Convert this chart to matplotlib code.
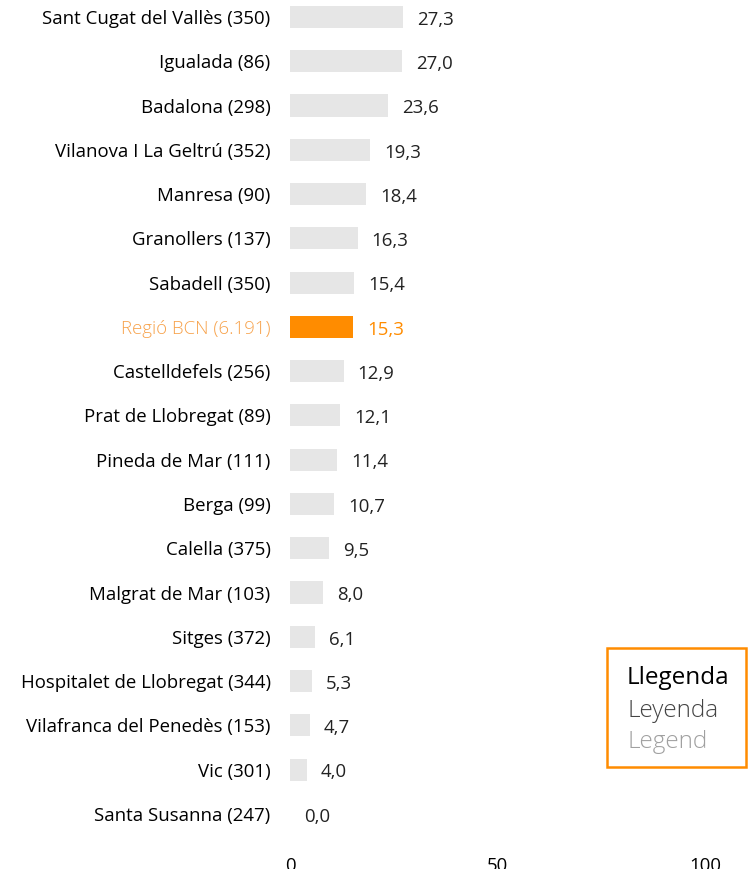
import matplotlib.pyplot as plt
from matplotlib.patches import Rectangle

plt.rcParams['font.family'] = ['Open Sans', 'DejaVu Sans']

# data
cities = ["Sant Cugat del Vallès (350)", "Igualada (86)", "Badalona (298)",
          "Vilanova I La Geltrú (352)", "Manresa (90)", "Granollers (137)",
          "Sabadell (350)", "Regió BCN (6.191)", "Castelldefels (256)",
          "Prat de Llobregat (89)", "Pineda de Mar (111)", "Berga (99)",
          "Calella (375)", "Malgrat de Mar (103)", "Sitges (372)",
          "Hospitalet de Llobregat (344)", "Vilafranca del Penedès (153)",
          "Vic (301)", "Santa Susanna (247)"]
values = [27.3, 27.0, 23.6, 19.3, 18.4, 16.3, 15.4, 15.3, 12.9, 12.1,
          11.4, 10.7, 9.5, 8.0, 6.1, 5.3, 4.7, 4.0, 0.0]
highlight = "Regió BCN (6.191)"
xticks = [0, 50, 100]

W, H = 748, 869
fig = plt.figure(figsize=(W / 100, H / 100), dpi=100)
ax = fig.add_axes([290 / W, (H - 836) / H, (705 - 290) / W, 836 / H])

orange = '#FF8C00'
gray = '#E6E6E6'
fs = 13.4
ypos = list(range(len(cities)))
colors = [orange if c == highlight else gray for c in cities]
ax.barh(ypos, values, height=0.5, color=colors)

ax.set_xlim(0, 100)
ax.set_ylim(18.5, -17 / 44.3)
ax.set_xticks(xticks)
ax.set_xticklabels([str(t) for t in xticks], fontsize=fs)
ax.tick_params(axis='x', length=0, pad=15)
ax.set_yticks(ypos)
ax.set_yticklabels(cities, fontsize=fs)
ax.tick_params(axis='y', length=0, pad=14)
for lab, c in zip(ax.get_yticklabels(), cities):
    if c == highlight:
        lab.set_color('#F7A24B')
        lab.set_fontweight('light')
for s in ax.spines.values():
    s.set_visible(False)

for y, v, c in zip(ypos, values, cities):
    col = orange if c == highlight else '#222222'
    ax.annotate(f"{v:.1f}".replace('.', ','), (v, y), xytext=(10, -2),
                textcoords='offset points', ha='left', va='center',
                fontsize=fs, color=col)

# legend box
fig.patches.append(Rectangle((607 / W, 1 - 767 / H), 139 / W, 119 / H,
                             transform=fig.transFigure, fill=False,
                             edgecolor=orange, linewidth=1.8))
fig.text(627 / W, 1 - 678 / H, "Llegenda", fontsize=17.5, color='#000000',
         va='center', ha='left')
fig.text(627 / W, 1 - 711 / H, "Leyenda", fontsize=17.5, color='#444444',
         va='center', ha='left', fontweight='light')
fig.text(627 / W, 1 - 742 / H, "Legend", fontsize=17.5, color='#A0A0A0',
         va='center', ha='left', fontweight='light')

fig.savefig('out.png', dpi=100)
